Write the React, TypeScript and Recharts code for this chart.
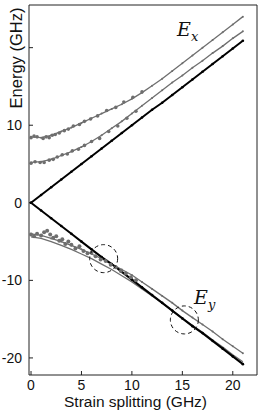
import { ComposedChart, Line, Scatter, XAxis, YAxis, ReferenceDot } from 'recharts';

// strain splitting (GHz) for the fitted curves
const fitX = [0, 1, 2, 3, 4, 5, 6, 7, 8, 9, 10, 11, 12, 13, 14, 15, 16, 17, 18, 19, 20, 21];

// E_x branch (upper two gray curves)
const exTop = [8.5, 8.4, 8.7, 9.2, 9.7, 10.3, 10.9, 11.5, 12.1, 12.7, 13.4, 14.2, 15.1, 16.0, 17.0, 18.0, 19.0, 20.0, 21.0, 22.0, 23.0, 24.0];
const exMid = [5.2, 5.3, 5.6, 6.1, 6.6, 7.2, 7.9, 8.7, 9.6, 10.5, 11.5, 12.5, 13.5, 14.5, 15.5, 16.4, 17.4, 18.3, 19.3, 20.2, 21.2, 22.1];
const upperBlack = [0, 1.0, 2.0, 3.0, 4.0, 5.0, 6.0, 7.0, 8.0, 9.0, 10.0, 11.0, 12.0, 12.9, 13.9, 14.9, 15.9, 16.9, 17.9, 18.9, 19.9, 20.9];

// E_y branch (lower curves)
const eyUpper = [-4.0, -4.2, -4.6, -5.0, -5.5, -6.0, -6.6, -7.2, -7.9, -8.6, -9.3, -10.2, -11.1, -12.0, -12.9, -13.9, -14.8, -15.7, -16.6, -17.6, -18.5, -19.4];
const eyLower = [-4.4, -4.6, -5.0, -5.5, -6.0, -6.6, -7.2, -7.9, -8.6, -9.4, -10.2, -11.1, -12.0, -12.9, -13.9, -14.9, -15.8, -16.7, -17.7, -18.6, -19.6, -20.5];
const lowerBlack = [0, -1.0, -2.0, -3.0, -4.0, -5.0, -6.0, -7.0, -7.9, -8.9, -9.9, -10.9, -11.9, -12.9, -13.9, -14.9, -15.9, -16.8, -17.8, -18.8, -19.8, -20.8];

// measured points
const exTopMeasX = [0, 0.3, 0.6, 1.2, 1.5, 1.8, 2.1, 2.4, 2.8, 3.3, 3.7, 4.2, 4.8, 5.3, 5.9, 6.6, 7.5, 8.4, 9.2, 10.1, 11.0];
const exTopMeasY = [8.4, 8.6, 8.5, 8.3, 8.5, 8.4, 8.7, 8.8, 9.0, 9.3, 9.5, 9.9, 10.1, 10.5, 10.8, 11.2, 11.9, 12.3, 13.0, 13.6, 14.3];
const exMidMeasX = [0, 0.4, 0.9, 1.3, 1.8, 2.2, 2.6, 3.1, 3.6, 4.1, 4.7, 5.3, 6.0, 6.8, 7.7, 8.6, 9.5, 10.4];
const exMidMeasY = [5.1, 5.3, 5.2, 5.2, 5.5, 5.6, 5.9, 6.2, 6.3, 6.7, 6.9, 7.4, 7.9, 8.3, 9.2, 9.9, 10.9, 11.8];
const eyMeasX = [0, 0.3, 0.6, 1.0, 1.3, 1.6, 1.9, 2.2, 2.5, 2.8, 3.1, 3.4, 3.7, 4.0, 4.4, 4.8, 5.2, 5.6, 6.0, 6.4, 6.9, 7.4, 7.9, 8.4, 8.9, 9.4, 9.9, 10.4];
const eyMeasY = [-4.1, -4.3, -4.0, -4.2, -3.8, -3.6, -4.1, -4.5, -4.3, -4.9, -4.7, -5.3, -5.0, -5.4, -5.9, -5.6, -6.2, -6.5, -6.4, -6.9, -7.3, -7.5, -8.0, -8.3, -8.8, -9.1, -9.6, -10.0];

// highlighted crossings
const circleX = [7.2, 15.2];
const circleY = [-7.2, -15.1];

const xTicks = [0, 5, 10, 15, 20];
const yTicks = [-20, -10, 0, 10, 20];

const pts = (xs: number[], ys: number[]) => xs.map((x, i) => ({ x, y: ys[i] }));

const FONT = '"Liberation Sans", Arial, sans-serif';
const SERIF = '"DejaVu Serif", "Liberation Serif", serif';
const GRAY = '#6e6e6e';

export default function App() {
    const tickStyle = { fontSize: 14, fill: '#111', fontFamily: FONT };
    return (
        <div style={{ position: 'relative', width: 266, height: 413, background: '#fff' }}>
            <style>{`body{margin:0}`}</style>
            <ComposedChart width={266} height={413} margin={{ top: 0, right: 0, bottom: 0, left: 0 }}>
                <XAxis xAxisId="b" dataKey="x" type="number" domain={[-0.2, 22.4]} ticks={xTicks}
                    height={38} tickSize={-4} tickMargin={9} stroke="#222" tick={tickStyle} allowDataOverflow />
                <XAxis xAxisId="t" orientation="top" dataKey="x" type="number" domain={[-0.2, 22.4]} ticks={xTicks}
                    height={5} tickSize={-4} tick={false} stroke="#222" allowDataOverflow />
                <YAxis yAxisId="l" type="number" domain={[-22.2, 25.5]} ticks={yTicks} width={29}
                    tickSize={-4} tickMargin={11} stroke="#222" tick={tickStyle}
                    tickFormatter={(v: number) => (v === 20 ? '' : String(v))} allowDataOverflow />
                <YAxis yAxisId="r" orientation="right" type="number" domain={[-22.2, 25.5]} ticks={yTicks} width={9}
                    tickSize={-4} tick={false} stroke="#222" allowDataOverflow />

                <Line xAxisId="b" yAxisId="l" data={pts(fitX, exTop)} dataKey="y" stroke={GRAY} strokeWidth={1.3}
                    dot={{ r: 1, fill: GRAY, stroke: 'none' }} isAnimationActive={false} />
                <Line xAxisId="b" yAxisId="l" data={pts(fitX, exMid)} dataKey="y" stroke={GRAY} strokeWidth={1.3}
                    dot={{ r: 1, fill: GRAY, stroke: 'none' }} isAnimationActive={false} />
                <Line xAxisId="b" yAxisId="l" data={pts(fitX, upperBlack)} dataKey="y" stroke="#000" strokeWidth={2}
                    dot={{ r: 1.3, fill: '#000', stroke: 'none' }} isAnimationActive={false} />
                <Line xAxisId="b" yAxisId="l" data={pts(fitX, eyUpper)} dataKey="y" stroke={GRAY} strokeWidth={1.3}
                    dot={{ r: 1, fill: GRAY, stroke: 'none' }} isAnimationActive={false} />
                <Line xAxisId="b" yAxisId="l" data={pts(fitX, eyLower)} dataKey="y" stroke={GRAY} strokeWidth={1.3}
                    dot={false} isAnimationActive={false} />
                <Line xAxisId="b" yAxisId="l" data={pts(fitX, lowerBlack)} dataKey="y" stroke="#000" strokeWidth={2}
                    dot={{ r: 1.3, fill: '#000', stroke: 'none' }} isAnimationActive={false} />

                <Scatter xAxisId="b" yAxisId="l" data={pts(exTopMeasX, exTopMeasY)} dataKey="y" fill={GRAY}
                    shape={(p: any) => <circle cx={p.cx} cy={p.cy} r={1.8} fill={GRAY} />} isAnimationActive={false} />
                <Scatter xAxisId="b" yAxisId="l" data={pts(exMidMeasX, exMidMeasY)} dataKey="y" fill={GRAY}
                    shape={(p: any) => <circle cx={p.cx} cy={p.cy} r={1.8} fill={GRAY} />} isAnimationActive={false} />
                <Scatter xAxisId="b" yAxisId="l" data={pts(eyMeasX, eyMeasY)} dataKey="y" fill={GRAY}
                    shape={(p: any) => <circle cx={p.cx} cy={p.cy} r={2} fill={GRAY} />} isAnimationActive={false} />

                {circleX.map((cx, i) => (
                    <ReferenceDot key={i} xAxisId="b" yAxisId="l" x={cx} y={circleY[i]} r={14}
                        fill="none" stroke="#111" strokeWidth={1} strokeDasharray="4 3" ifOverflow="visible" />
                ))}
            </ComposedChart>

            <div style={{ position: 'absolute', left: 16, top: 57.5, transform: 'translate(-50%,-50%) rotate(-90deg)', fontFamily: FONT, fontSize: 16.5, color: '#111', whiteSpace: 'nowrap' }}>
                Energy (GHz)
            </div>
            <div style={{ position: 'absolute', left: 135.5, top: 401.5, transform: 'translate(-50%,-50%)', fontFamily: FONT, fontSize: 15.5, color: '#111', whiteSpace: 'nowrap' }}>
                Strain splitting (GHz)
            </div>
            <div style={{ position: 'absolute', left: 177, top: 18, fontFamily: SERIF, fontStyle: 'italic', fontSize: 19, color: '#111', whiteSpace: 'nowrap' }}>
                E<sub style={{ fontSize: 13 }}>x</sub>
            </div>
            <div style={{ position: 'absolute', left: 194, top: 286, fontFamily: SERIF, fontStyle: 'italic', fontSize: 19, color: '#111', whiteSpace: 'nowrap' }}>
                E<sub style={{ fontSize: 13 }}>y</sub>
            </div>
        </div>
    );
}
